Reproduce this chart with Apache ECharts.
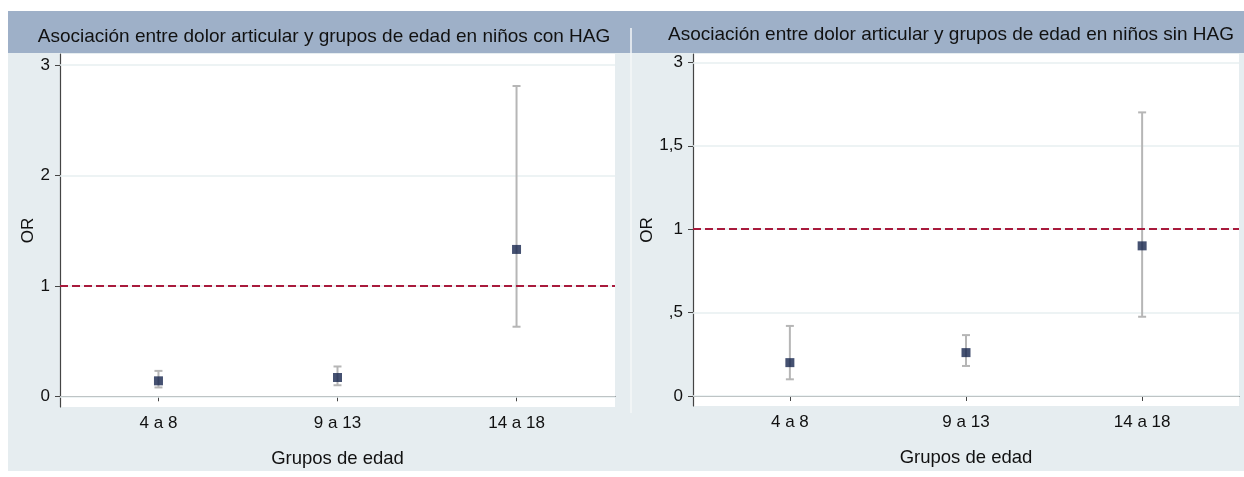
<!DOCTYPE html>
<html>
<head>
<meta charset="utf-8">
<script src="https://cdn.jsdelivr.net/npm/echarts@6/dist/echarts.min.js"></script>
<style>html,body{margin:0;padding:0;background:#fff;}#c{width:1244px;height:477px;}</style>
</head>
<body>
<div id="c"></div>
<script>
// ---- data ----
const categories = ['4 a 8', '9 a 13', '14 a 18'];
const catPos = [1, 2, 3];
const leftTitle = 'Asociación entre dolor articular y grupos de edad en niños con HAG';
const rightTitle = 'Asociación entre dolor articular y grupos de edad en niños sin HAG';
const leftOR   = [0.14, 0.17, 1.33];
const leftLow  = [0.08, 0.10, 0.63];
const leftHigh = [0.23, 0.27, 2.81];
const rightOR   = [0.20, 0.26, 0.90];
const rightLow  = [0.10, 0.18, 0.475];
const rightHigh = [0.42, 0.365, 1.70];
const leftTicks = [0, 1, 2, 3];
const leftTickLabels = ['0', '1', '2', '3'];
const rightTicks = [0, 0.5, 1, 1.5, 2];
const rightTickLabels = ['0', ',5', '1', '1,5', '3'];
const refValue = 1;

// ---- chart ----
const FONT = '"Liberation Sans", Arial, Helvetica, sans-serif';
const chart = echarts.init(document.getElementById('c'), null, {renderer: 'canvas'});

function errRender(params, api) {
  const x = api.value(0), lo = api.value(1), hi = api.value(2);
  const a = api.coord([x, lo]), b = api.coord([x, hi]);
  const cap = 4;
  const style = {stroke: '#b6b6b6', lineWidth: 2};
  return {type: 'group', children: [
    {type: 'line', shape: {x1: a[0], y1: a[1], x2: b[0], y2: b[1]}, style: style},
    {type: 'line', shape: {x1: a[0] - cap, y1: a[1], x2: a[0] + cap, y2: a[1]}, style: style},
    {type: 'line', shape: {x1: b[0] - cap, y1: b[1], x2: b[0] + cap, y2: b[1]}, style: style}
  ]};
}

function xAxisCfg(gi) {
  return {
    type: 'value', gridIndex: gi, min: 0.45, max: 3.55,
    name: 'Grupos de edad', nameLocation: 'middle', nameGap: 42,
    nameTextStyle: {fontFamily: FONT, fontSize: 18.5, color: '#111'},
    axisLine: {show: true, lineStyle: {color: '#444', width: 1.2}},
    axisTick: {show: true, customValues: catPos, length: 5, lineStyle: {color: '#444', width: 1}},
    axisLabel: {show: true, customValues: catPos, margin: 8, fontFamily: FONT, fontSize: 17, color: '#111',
      formatter: v => categories[Math.round(v) - 1] || ''},
    splitLine: {show: false}
  };
}
function yAxisCfg(gi, min, max, ticks, labels, gap) {
  return {
    type: 'value', gridIndex: gi, min: min, max: max,
    name: 'OR', nameLocation: 'middle', nameGap: gap, nameRotate: 90,
    nameTextStyle: {fontFamily: FONT, fontSize: 17, color: '#111'},
    axisLine: {show: true, lineStyle: {color: '#444', width: 1.2}},
    axisTick: {show: true, customValues: ticks, length: 5, lineStyle: {color: '#444', width: 1}},
    axisLabel: {show: true, customValues: ticks, margin: 10, fontFamily: FONT, fontSize: 17, color: '#111',
      formatter: v => { const i = ticks.findIndex(t => Math.abs(t - v) < 1e-6); return i >= 0 ? labels[i] : ''; }},
    splitLine: {show: false}
  };
}
function gridSeries(ai, ticks) {
  return {
    type: 'line', xAxisIndex: ai, yAxisIndex: ai, data: [], silent: true, z: 1,
    markLine: {silent: true, symbol: 'none', label: {show: false}, z: 1,
      lineStyle: {color: '#e7eff1', width: 1.6, type: 'solid'},
      data: ticks.map(t => ({yAxis: t}))}
  };
}
function errSeries(ai, lo, hi) {
  return {
    type: 'custom', xAxisIndex: ai, yAxisIndex: ai, z: 3, renderItem: errRender,
    data: catPos.map((x, i) => [x, lo[i], hi[i]])
  };
}
function ptSeries(ai, vals) {
  return {
    type: 'scatter', xAxisIndex: ai, yAxisIndex: ai, z: 5, symbol: 'rect', symbolSize: [9, 9],
    itemStyle: {color: '#17264d'},
    data: catPos.map((x, i) => [x, vals[i]]),
    markLine: {silent: true, symbol: 'none', label: {show: false}, z: 4,
      lineStyle: {color: '#a81a3c', width: 2.2, type: [8, 4]},
      data: [{yAxis: refValue}]}
  };
}

const option = {
  animation: false,
  backgroundColor: '#ffffff',
  graphic: [
    {type: 'rect', z: -10, silent: true, shape: {x: 8, y: 11, width: 1236, height: 42}, style: {fill: '#9eb0c8'}},
    {type: 'rect', z: -10, silent: true, shape: {x: 8, y: 53, width: 1236, height: 418}, style: {fill: '#e6edf0'}},
    {type: 'rect', z: -9, silent: true, shape: {x: 60, y: 54, width: 555, height: 353}, style: {fill: '#ffffff'}},
    {type: 'rect', z: -9, silent: true, shape: {x: 693, y: 54, width: 546, height: 352}, style: {fill: '#ffffff'}},
    {type: 'line', z: -8, silent: true, shape: {x1: 631, y1: 28, x2: 631, y2: 413}, style: {stroke: '#f4f7f9', lineWidth: 1.5}},
    {type: 'text', z: 10, silent: true, x: 324, y: 37, style: {text: leftTitle, fill: '#111', font: '19px ' + FONT, textAlign: 'center', textVerticalAlign: 'middle'}},
    {type: 'text', z: 10, silent: true, x: 951, y: 35, style: {text: rightTitle, fill: '#111', font: '19px ' + FONT, textAlign: 'center', textVerticalAlign: 'middle'}}
  ],
  grid: [
    {left: 60, top: 54, width: 555, height: 353, show: false},
    {left: 693, top: 54, width: 546, height: 352, show: false}
  ],
  xAxis: [xAxisCfg(0), xAxisCfg(1)],
  yAxis: [
    yAxisCfg(0, -0.097, 3.1, leftTicks, leftTickLabels, 22),
    yAxisCfg(1, -0.06, 2.05, rightTicks, rightTickLabels, 34)
  ],
  series: [
    gridSeries(0, leftTicks), gridSeries(1, rightTicks),
    errSeries(0, leftLow, leftHigh), errSeries(1, rightLow, rightHigh),
    ptSeries(0, leftOR), ptSeries(1, rightOR)
  ]
};
chart.setOption(option);
</script>
</body>
</html>
